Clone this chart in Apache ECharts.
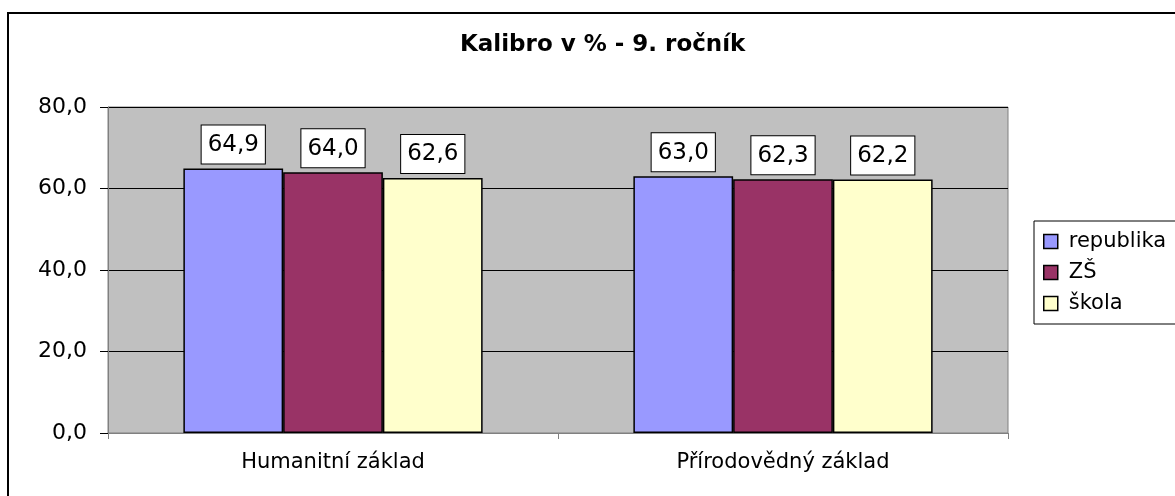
<!DOCTYPE html>
<html>
<head>
<meta charset="utf-8">
<script src="https://cdn.jsdelivr.net/npm/echarts@6/dist/echarts.min.js"></script>
<style>
  html, body { margin: 0; padding: 0; background: #fff; }
  #main { width: 1175px; height: 496px; }
</style>
</head>
<body>
<div id="main"></div>
<script>
// data
var categories = ['Humanitní základ', 'Přírodovědný základ'];
var republika = [64.9, 63.0];
var zs = [64.0, 62.3];
var skola = [62.6, 62.2];
var seriesNames = ['republika', 'ZŠ', 'škola'];
var seriesColors = ['#9999FF', '#993366', '#FFFFCC'];

var font = 'DejaVu Sans, Verdana, sans-serif';

function fmt(v) {
  return v.toFixed(1).replace('.', ',');
}

function makeBar(name, data, color) {
  return {
    name: name,
    type: 'bar',
    data: data,
    barGap: '0%',
    barCategoryGap: '33.5%',
    itemStyle: { color: color, borderColor: '#000', borderWidth: 1.5 },
    label: {
      show: true,
      position: 'top',
      distance: 5,
      formatter: function (p) { return fmt(p.value); },
      fontFamily: font,
      fontSize: 23,
      color: '#000',
      backgroundColor: '#fff',
      borderColor: '#000',
      borderWidth: 1,
      padding: [8, 6, 7, 6]
    }
  };
}

var option = {
  backgroundColor: '#fff',
  animation: false,
  textStyle: { fontFamily: font },
  graphic: [{
    type: 'rect',
    shape: { x: 8, y: 13, width: 1250, height: 600 },
    style: { fill: 'none', stroke: '#000', lineWidth: 2 }
  }],
  title: {
    text: 'Kalibro v % - 9. ročník',
    left: 455,
    top: 29,
    textStyle: { fontFamily: font, fontSize: 23, fontWeight: 'bold', color: '#000' }
  },
  legend: {
    orient: 'vertical',
    left: 1034,
    top: 221,
    data: seriesNames,
    itemWidth: 14,
    itemHeight: 14,
    itemGap: 10,
    padding: [10, 60, 10, 9],
    borderColor: '#000',
    borderWidth: 1,
    icon: 'rect',
    itemStyle: { borderColor: '#000', borderWidth: 1.5 },
    textStyle: { fontFamily: font, fontSize: 21, color: '#000', padding: [0, 0, 0, 6] }
  },
  grid: {
    left: 108,
    right: 167,
    top: 107,
    bottom: 63,
    show: true,
    backgroundColor: '#C0C0C0',
    borderColor: '#808080',
    borderWidth: 1
  },
  xAxis: {
    type: 'category',
    data: categories,
    axisLine: { lineStyle: { color: '#808080', width: 1 } },
    axisTick: { show: true, length: 6, lineStyle: { color: '#808080' } },
    axisLabel: { fontFamily: font, fontSize: 21, color: '#000', margin: 19 }
  },
  yAxis: {
    type: 'value',
    min: 0,
    max: 80,
    interval: 20,
    axisLine: { show: true, lineStyle: { color: '#808080' } },
    axisTick: { show: true, length: 8, lineStyle: { color: '#000' } },
    axisLabel: {
      fontFamily: font, fontSize: 22, color: '#000', margin: 21,
      formatter: function (v) { return fmt(v); }
    },
    splitLine: { show: true, lineStyle: { color: '#000', width: 1 } }
  },
  series: [
    makeBar(seriesNames[0], republika, seriesColors[0]),
    makeBar(seriesNames[1], zs, seriesColors[1]),
    makeBar(seriesNames[2], skola, seriesColors[2])
  ]
};

var myChart = echarts.init(document.getElementById('main'));
myChart.setOption(option);
</script>
</body>
</html>
